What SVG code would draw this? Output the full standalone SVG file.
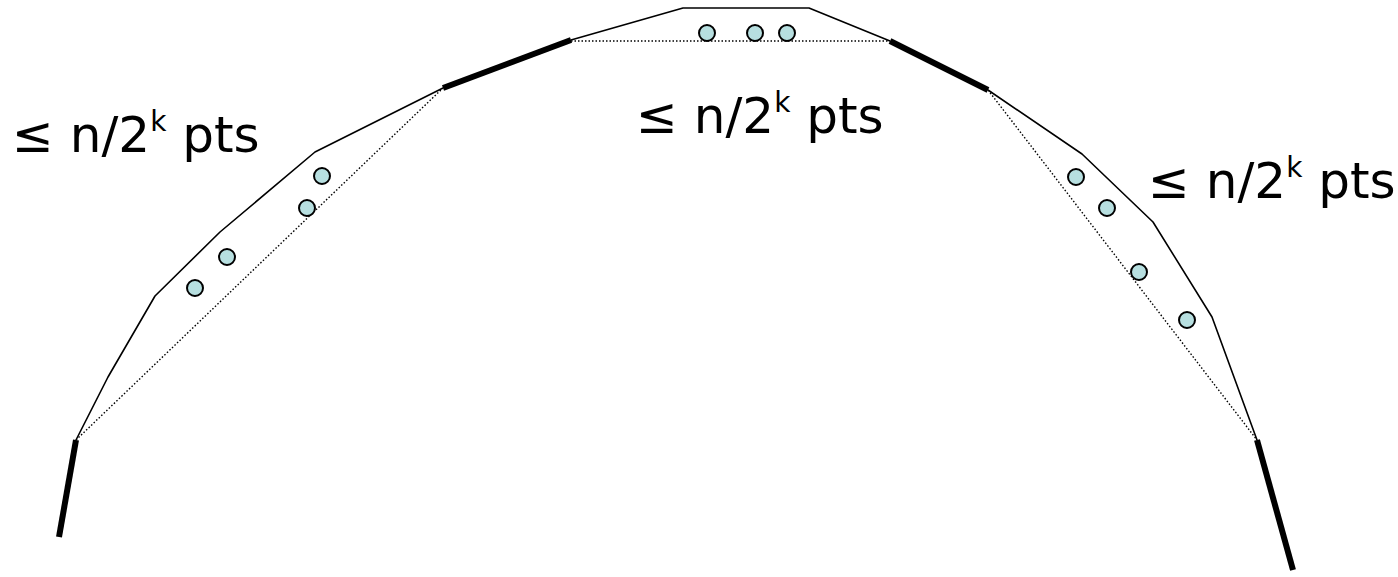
<svg xmlns="http://www.w3.org/2000/svg" width="1398" height="577" viewBox="0 0 1398 577">
<style>
.hull{fill:none;stroke:#000;stroke-width:1.6;stroke-linejoin:round}
.thick{fill:none;stroke:#000;stroke-width:6;stroke-linecap:butt}
.dot{fill:none;stroke:#000;stroke-width:1.4;stroke-dasharray:1.5 2}
.pt{fill:#b7dfe0;stroke:#000;stroke-width:2}
.lbl{font-family:"DejaVu Sans","Noto Sans",sans-serif;font-size:50px;fill:#000}
.sup{font-size:28px}
</style>
<rect width="1398" height="577" fill="#fff"/>
<g id="hull">
<polyline class="hull" points="76,440 108,377 155,296 220,232 315,152 443,88"/>
<polyline class="hull" points="571,40 683,8 809,8 890,41"/>
<polyline class="hull" points="988,90 1082,154 1153,222 1212,317 1257,440"/>
</g>
<g id="thick-edges">
<line class="thick" x1="76" y1="440" x2="59" y2="537"/>
<line class="thick" x1="443" y1="88" x2="571" y2="40"/>
<line class="thick" x1="890" y1="41" x2="988" y2="90"/>
<line class="thick" x1="1257" y1="440" x2="1293" y2="570"/>
</g>
<g id="connectors">
<line class="dot" x1="76" y1="440" x2="443" y2="88"/>
<line class="dot" x1="571" y1="41" x2="890" y2="41"/>
<line class="dot" x1="988" y1="90" x2="1257" y2="440"/>
</g>
<g id="points">
<circle class="pt" cx="195" cy="288" r="8"/>
<circle class="pt" cx="227" cy="257" r="8"/>
<circle class="pt" cx="307" cy="208" r="8"/>
<circle class="pt" cx="322" cy="176" r="8"/>
<circle class="pt" cx="707" cy="33" r="8"/>
<circle class="pt" cx="755" cy="33" r="8"/>
<circle class="pt" cx="787" cy="33" r="8"/>
<circle class="pt" cx="1076" cy="177" r="8"/>
<circle class="pt" cx="1107" cy="208" r="8"/>
<circle class="pt" cx="1139" cy="272" r="8"/>
<circle class="pt" cx="1187" cy="320" r="8"/>
</g>
<g id="label-left"><text class="lbl" x="12" y="152">≤ n/2<tspan class="sup" dy="-21">k</tspan><tspan dy="21"> pts</tspan></text></g>
<g id="label-mid"><text class="lbl" x="636" y="133">≤ n/2<tspan class="sup" dy="-21">k</tspan><tspan dy="21"> pts</tspan></text></g>
<g id="label-right"><text class="lbl" x="1148" y="198">≤ n/2<tspan class="sup" dy="-21">k</tspan><tspan dy="21"> pts</tspan></text></g>
</svg>
